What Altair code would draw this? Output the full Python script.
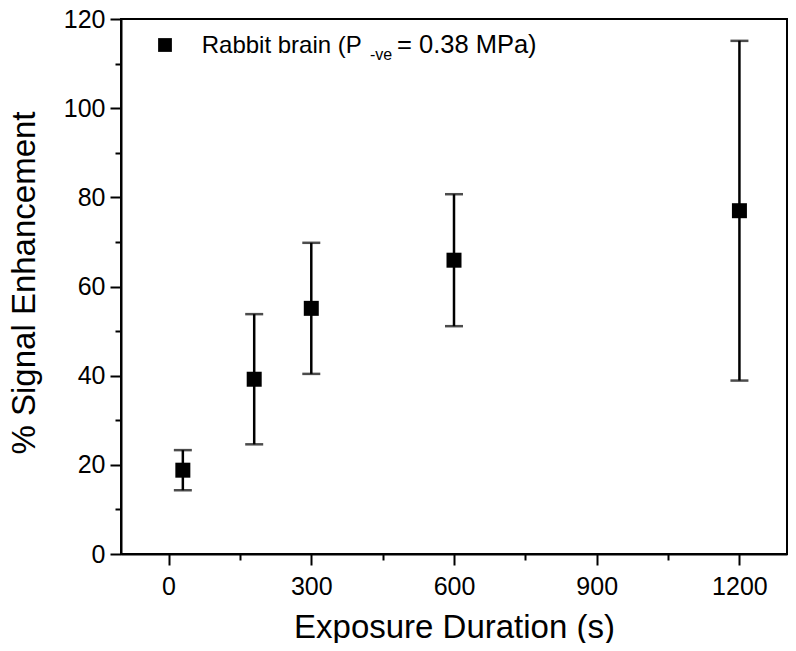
import altair as alt
import pandas as pd

# ---- data ----
durations = [30, 180, 300, 600, 1200]
enhancement = [18.8, 39.2, 55.1, 65.9, 77.0]
error = [4.5, 14.6, 14.7, 14.8, 38.1]

x_ticks = [0, 150, 300, 450, 600, 750, 900, 1050, 1200]
y_ticks = [0, 10, 20, 30, 40, 50, 60, 70, 80, 90, 100, 110, 120]

legend_main = ["Rabbit brain (P"]
legend_sub = ["-ve"]
legend_tail = ["= 0.38 MPa)"]

x_title = "Exposure Duration (s)"
y_title = "% Signal Enhancement"

df = pd.DataFrame({"x": durations, "y": enhancement, "err": error})
df["lo"] = df["y"] - df["err"]
df["hi"] = df["y"] + df["err"]

FONT = "Liberation Sans"
W, H = 666, 535

xscale = alt.Scale(domain=[-100, 1300], nice=False, zero=False)
yscale = alt.Scale(domain=[0, 120], nice=False)

xaxis = alt.Axis(
    values=x_ticks,
    format="d",
    labelExpr="datum.value % 300 === 0 ? datum.label : ''",
    tickSize={"condition": {"test": "datum.value % 300 === 0", "value": 11}, "value": 6},
    tickWidth=2,
    tickColor="black",
    domain=True,
    domainWidth=2,
    domainColor="black",
    grid=False,
    labelFont=FONT,
    labelFontSize=25,
    labelColor="black",
    labelPadding=9,
    title=x_title,
    titleFont=FONT,
    titleFontSize=33,
    titleFontWeight="normal",
    titleColor="black",
    titleBaseline="alphabetic",
    titleY=83,
)

yaxis = alt.Axis(
    values=y_ticks,
    format="d",
    labelExpr="datum.value % 20 === 0 ? datum.label : ''",
    tickSize={"condition": {"test": "datum.value % 20 === 0", "value": 11}, "value": 6},
    tickWidth=2,
    tickColor="black",
    domain=True,
    domainWidth=2,
    domainColor="black",
    grid=False,
    labelFont=FONT,
    labelFontSize=25,
    labelColor="black",
    labelPadding=5,
    title=y_title,
    titleFont=FONT,
    titleFontSize=33,
    titleFontWeight="normal",
    titleColor="black",
    titleAngle=270,
    titleBaseline="alphabetic",
    titleAlign="center",
    titleX=-87,
    titleY=H / 2 - 4,
)

base = alt.Chart(df)

bars = base.mark_rule(color="black", strokeWidth=2.5).encode(
    x=alt.X("x:Q", scale=xscale, axis=xaxis),
    y=alt.Y("lo:Q", scale=yscale, axis=yaxis),
    y2="hi:Q",
)

cap_hi = base.mark_tick(color="black", thickness=2.5, size=18, orient="horizontal").encode(
    x=alt.X("x:Q", scale=xscale), y=alt.Y("hi:Q", scale=yscale)
)
cap_lo = base.mark_tick(color="black", thickness=2.5, size=18, orient="horizontal").encode(
    x=alt.X("x:Q", scale=xscale), y=alt.Y("lo:Q", scale=yscale)
)

points = base.mark_point(shape="square", filled=True, size=225, color="black", opacity=1).encode(
    x=alt.X("x:Q", scale=xscale), y=alt.Y("y:Q", scale=yscale)
)

# legend (drawn as annotation inside the plot)
leg_sym = alt.Chart(pd.DataFrame({"t": legend_main})).mark_point(
    shape="square", filled=True, size=190, color="black", opacity=1
).encode(x=alt.value(44), y=alt.value(26))

leg_main = alt.Chart(pd.DataFrame({"t": legend_main})).mark_text(
    font=FONT, fontSize=24, align="left", baseline="alphabetic", color="black"
).encode(x=alt.value(80.7), y=alt.value(33.5), text="t:N")

leg_sub = alt.Chart(pd.DataFrame({"t": legend_sub})).mark_text(
    font=FONT, fontSize=16, align="left", baseline="alphabetic", color="black"
).encode(x=alt.value(249), y=alt.value(41), text="t:N")

leg_tail = alt.Chart(pd.DataFrame({"t": legend_tail})).mark_text(
    font=FONT, fontSize=25.5, align="left", baseline="alphabetic", color="black"
).encode(x=alt.value(276), y=alt.value(33.5), text="t:N")

chart = (
    alt.layer(bars, cap_hi, cap_lo, points, leg_sym, leg_main, leg_sub, leg_tail)
    .properties(
        width=W,
        height=H,
        padding={"left": 113, "top": 11, "right": 1, "bottom": 89},
        autosize=alt.AutoSizeParams(type="none"),
        background="white",
    )
    .configure_view(stroke="black", strokeWidth=2)
)

chart.save("out.html", embed_options={"renderer": "svg", "actions": False})
